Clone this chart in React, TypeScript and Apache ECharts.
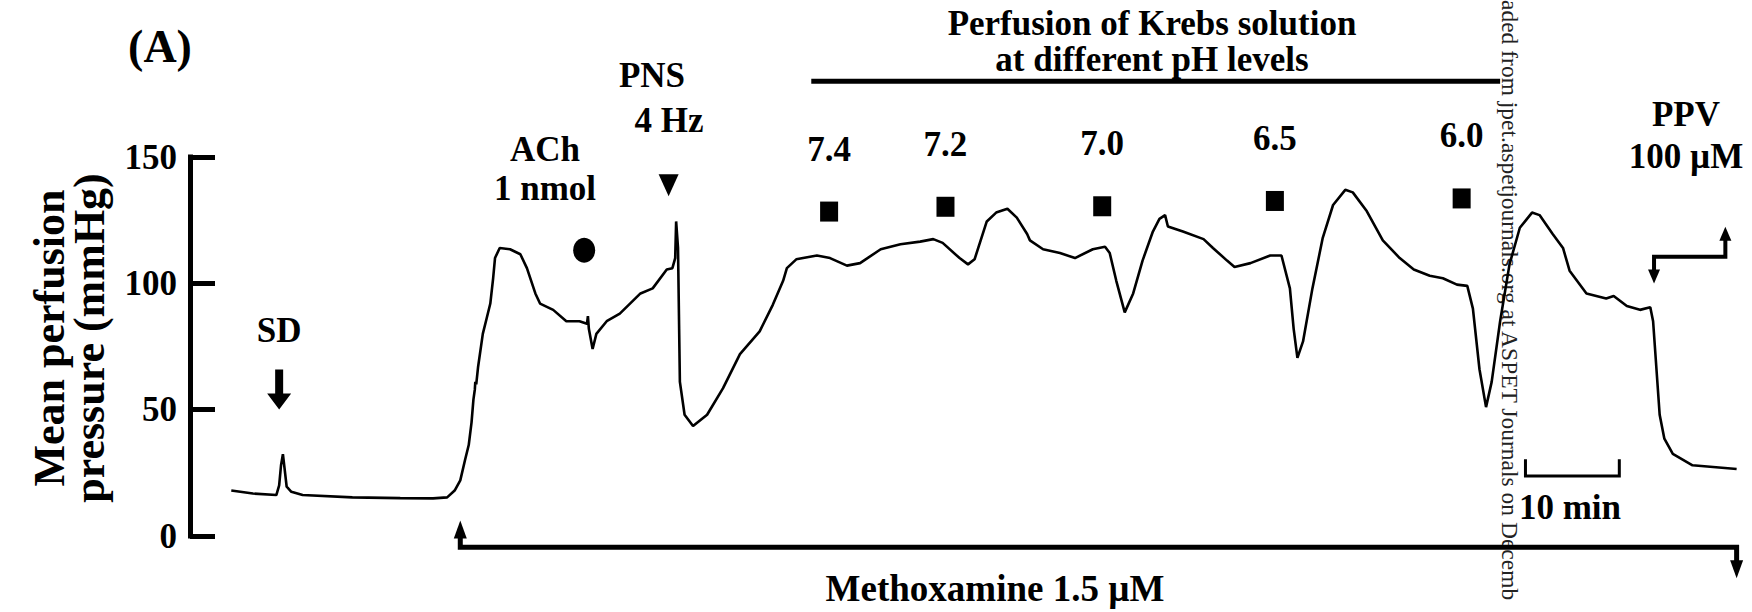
import React, { useEffect, useRef } from 'react';
import * as echarts from 'echarts';

// ---- trace: time (min from start of record) vs mean perfusion pressure (mmHg)
const time = [
  0, 2.3, 4.8, 5.1, 5.3, 5.5, 5.7, 5.9, 6.4, 7.6, 12.9, 18, 21.5, 23.0, 23.8, 24.4, 24.9, 25.3, 25.6, 25.8,
  25.95, 26.0, 26.1, 26.3, 26.8, 27.2, 27.6, 27.9, 28.1, 28.6, 29.7, 30.8, 31.5, 32.4, 32.9, 34.3, 35.7, 37.1,
  37.9, 38.0, 38.1, 38.5, 38.9, 40.0, 41.4, 43.6, 44.9, 46.4, 47.0, 47.3, 47.4, 47.6, 47.8, 48.3, 49.2, 50.7,
  52.4, 54.2, 56.3, 57.7, 58.8, 59.2, 60.2, 62.4, 63.8, 65.6, 67.0, 69.2, 71.3, 73.4, 74.8, 75.8, 77.6, 78.5,
  79.2, 80.5, 81.5, 82.7, 83.7, 84.8, 85.1, 86.5, 88.3, 89.9, 91.8, 93.1, 93.6, 94.3, 95.2, 96.1, 97.1, 98.2,
  98.9, 99.5, 99.8, 101.4, 103.6, 104.6, 106.1, 106.9, 108.6, 110.7, 111.9, 112.8, 113.2, 113.6, 114.2, 115.2,
  116.3, 117.4, 118.7, 119.5, 121.0, 122.7, 124.5, 126.0, 127.7, 129.1, 130.6, 131.7, 132.3, 133.0, 133.7,
  134.3, 135.2, 136.2, 137.3, 138.6, 139.4, 140.8, 141.9, 142.6, 144.4, 146.5, 147.3, 148.7, 150.1, 151.2,
  151.5, 152.2, 152.7, 153.6, 155.7, 160.4,
];
const pressure = [
  18, 16.8, 16.2, 20, 28, 32.4, 26, 19.5, 17.5, 16.2, 15.3, 15, 14.9, 15.3, 18, 22, 30, 36, 45, 54,
  58, 61, 60, 67, 80, 86, 92, 102, 110, 114, 113.5, 111.5, 106, 96, 92, 89.5, 85, 85,
  84, 87, 82, 74, 80, 85, 88, 96, 98, 105.5, 106, 110, 124.5, 114, 61, 48, 43.5, 48,
  58.5, 72, 81, 91.5, 101, 106, 109.5, 111, 110, 107, 108, 113.5, 115.5, 116.5, 117.5, 116, 110, 107.5,
  109.5, 124.5, 128, 129.5, 126, 119.5, 117, 113.5, 112, 110, 113.5, 114.5, 112, 101, 88.5, 96, 109, 120.5,
  125.5, 127, 122.5, 120.5, 117.5, 114, 109, 106.5, 108, 111, 111, 98, 82, 70.5, 77, 98,
  118, 131, 137, 136, 128.5, 117, 110, 105.5, 103, 102, 99.5, 99, 90, 66, 51,
  61, 85, 107.5, 122, 128, 127, 119.5, 114, 105, 96, 94, 95, 91, 89.5, 90.5,
  85, 48, 38.5, 32.5, 28, 26.5,
];

// ---- axis ticks
const yTicks = [0, 50, 100, 150];

// ---- events (min)
const sdTime = 5.1;
const achTime = 37.6;
const pnsTime = 46.6;
const phLevels = ['7.4', '7.2', '7.0', '6.5', '6.0'];
const phTimes = [63.7, 76.1, 92.8, 111.2, 131.1];
const krebsPeriod = [61.8, 135.2];
const methoxaminePeriod = [24.4, 160.4];
const ppvTime = [151.6, 159.2];
const scaleBarMin = [137.9, 147.9];

// ---- marker heights (mmHg level where the symbol sits)
const phMarkLevel = [128.4, 130.3, 130.5, 132.6, 133.6];
const sdMarkLevel = 58;
const achMarkLevel = 113.1;
const pnsMarkLevel = 138.8;
const krebsLevel = 180;
const methoxLevels = { tipUp: 2.6, bar: -4.5, tipDown: -13.2 };
const ppvLevels = { down: 102.7, bar: 110.5, up: 119.6 };
const scaleLevels = { bottom: 23.7, top: 30.4 };

const FONT = '"Liberation Serif", "Times New Roman", serif';

function txt(text: string, x: number, y: number, size = 35, extra: any = {}) {
  return {
    type: 'text',
    x,
    y,
    rotation: extra.rotation || 0,
    silent: true,
    style: {
      text,
      x: 0,
      y: 0,
      fill: extra.fill || '#000',
      fontSize: size,
      fontWeight: extra.fontWeight || 'bold',
      fontFamily: FONT,
      align: extra.align || 'center',
      verticalAlign: 'middle',
      textAlign: extra.align || 'center',
      textVerticalAlign: 'middle',
      lineHeight: extra.lineHeight || size,
    },
  };
}

export default function App() {
  const ref = useRef<HTMLDivElement>(null);
  useEffect(() => {
    if (!ref.current) return;
    const chart = echarts.init(ref.current, undefined, { renderer: 'svg' });
    const labelStyle = {
      color: '#000',
      fontSize: 35,
      fontWeight: 'bold',
      fontFamily: FONT,
      lineHeight: 35,
    };
    const lineSeries = (data: number[][], width: number) => ({
      type: 'line',
      data,
      symbol: 'none',
      clip: false,
      silent: true,
      lineStyle: { color: '#000', width, join: 'miter', cap: 'butt' },
    });
    const option: any = {
      animation: false,
      backgroundColor: '#fff',
      grid: { left: 190, right: 13.5, top: 157, bottom: 76 },
      xAxis: { type: 'value', min: -4.4, max: 160.6, show: false },
      yAxis: {
        type: 'value',
        min: yTicks[0],
        max: yTicks[yTicks.length - 1],
        interval: 50,
        axisLine: { show: true, onZero: false, lineStyle: { color: '#000', width: 5, cap: 'square' } },
        axisTick: { show: true, inside: true, length: 25, lineStyle: { color: '#000', width: 5 } },
        axisLabel: { color: '#000', fontSize: 35, fontWeight: 'bold', fontFamily: FONT, margin: 13 },
        splitLine: { show: false },
      },
      series: [
        {
          type: 'line',
          data: time.map((t, i) => [t, pressure[i]]),
          symbol: 'none',
          silent: true,
          lineStyle: { color: '#000', width: 2.6 },
        },
        lineSeries([[krebsPeriod[0], krebsLevel], [krebsPeriod[1], krebsLevel]], 5),
        lineSeries(
          [
            [methoxaminePeriod[0], methoxLevels.tipUp],
            [methoxaminePeriod[0], methoxLevels.bar],
            [methoxaminePeriod[1], methoxLevels.bar],
            [methoxaminePeriod[1], methoxLevels.tipDown],
          ],
          5
        ),
        lineSeries(
          [
            [ppvTime[0], ppvLevels.down],
            [ppvTime[0], ppvLevels.bar],
            [ppvTime[1], ppvLevels.bar],
            [ppvTime[1], ppvLevels.up],
          ],
          4
        ),
        lineSeries(
          [
            [scaleBarMin[0], scaleLevels.top],
            [scaleBarMin[0], scaleLevels.bottom],
            [scaleBarMin[1], scaleLevels.bottom],
            [scaleBarMin[1], scaleLevels.top],
          ],
          3
        ),
        {
          type: 'scatter',
          clip: false,
          silent: true,
          itemStyle: { color: '#000', opacity: 1 },
          data: [
            { value: [methoxaminePeriod[0], methoxLevels.tipUp], symbol: 'triangle', symbolSize: [13, 18], symbolRotate: 0 },
            { value: [methoxaminePeriod[1], methoxLevels.tipDown], symbol: 'triangle', symbolSize: [13, 18], symbolRotate: 180 },
            { value: [ppvTime[0], ppvLevels.down], symbol: 'triangle', symbolSize: [12, 14], symbolRotate: 180 },
            { value: [ppvTime[1], ppvLevels.up], symbol: 'triangle', symbolSize: [12, 14], symbolRotate: 0 },
          ],
        },
        {
          type: 'scatter',
          clip: false,
          silent: true,
          symbol: 'rect',
          symbolSize: [18, 20],
          itemStyle: { color: '#000', opacity: 1 },
          label: {
            show: true,
            position: 'top',
            distance: 35,
            formatter: (p: any) => phLevels[p.dataIndex],
            ...labelStyle,
          },
          data: phTimes.map((t, i) => [t, phMarkLevel[i]]),
        },
        {
          type: 'scatter',
          clip: false,
          silent: true,
          itemStyle: { color: '#000', opacity: 1 },
          data: [
            {
              value: [sdTime, sdMarkLevel],
              symbol: 'path://M8,0L16,0L16,24L24,24L12,40L0,24L8,24Z',
              symbolSize: [24, 40],
              label: { show: true, position: 'top', distance: 21, formatter: 'SD', ...labelStyle },
            },
            { value: [achTime, achMarkLevel], symbol: 'circle', symbolSize: [22, 25] },
            { value: [pnsTime, pnsMarkLevel], symbol: 'triangle', symbolSize: [20, 22], symbolRotate: 180 },
          ],
        },
      ],
      graphic: [
        txt('(A)', 160, 46, 46),
        txt('Mean perfusion\npressure (mmHg)', 69, 338, 44, { rotation: Math.PI / 2, lineHeight: 40 }),
        txt('ACh', 545, 149),
        txt('1 nmol', 545, 188),
        txt('PNS', 652, 75),
        txt('4 Hz', 669, 120),
        txt('Perfusion of Krebs solution', 1152, 23, 35),
        txt('at different pH levels', 1152, 59, 35),
        txt('PPV', 1686, 114),
        txt('100 µM', 1686, 156),
        txt('10 min', 1570, 507),
        txt('Methoxamine 1.5 µM', 995, 588, 37),
        txt('aded from jpet.aspetjournals.org at ASPET Journals on Decemb', 1510, 0, 23.5, {
          rotation: -Math.PI / 2,
          align: 'left',
          fontWeight: 'normal',
          fill: '#222',
        }),
      ],
    };
    chart.setOption(option);
    return () => chart.dispose();
  }, []);
  return (
    <div
      ref={ref}
      style={{ position: 'absolute', left: 0, top: 0, width: 1752, height: 612, background: '#fff' }}
    />
  );
}
